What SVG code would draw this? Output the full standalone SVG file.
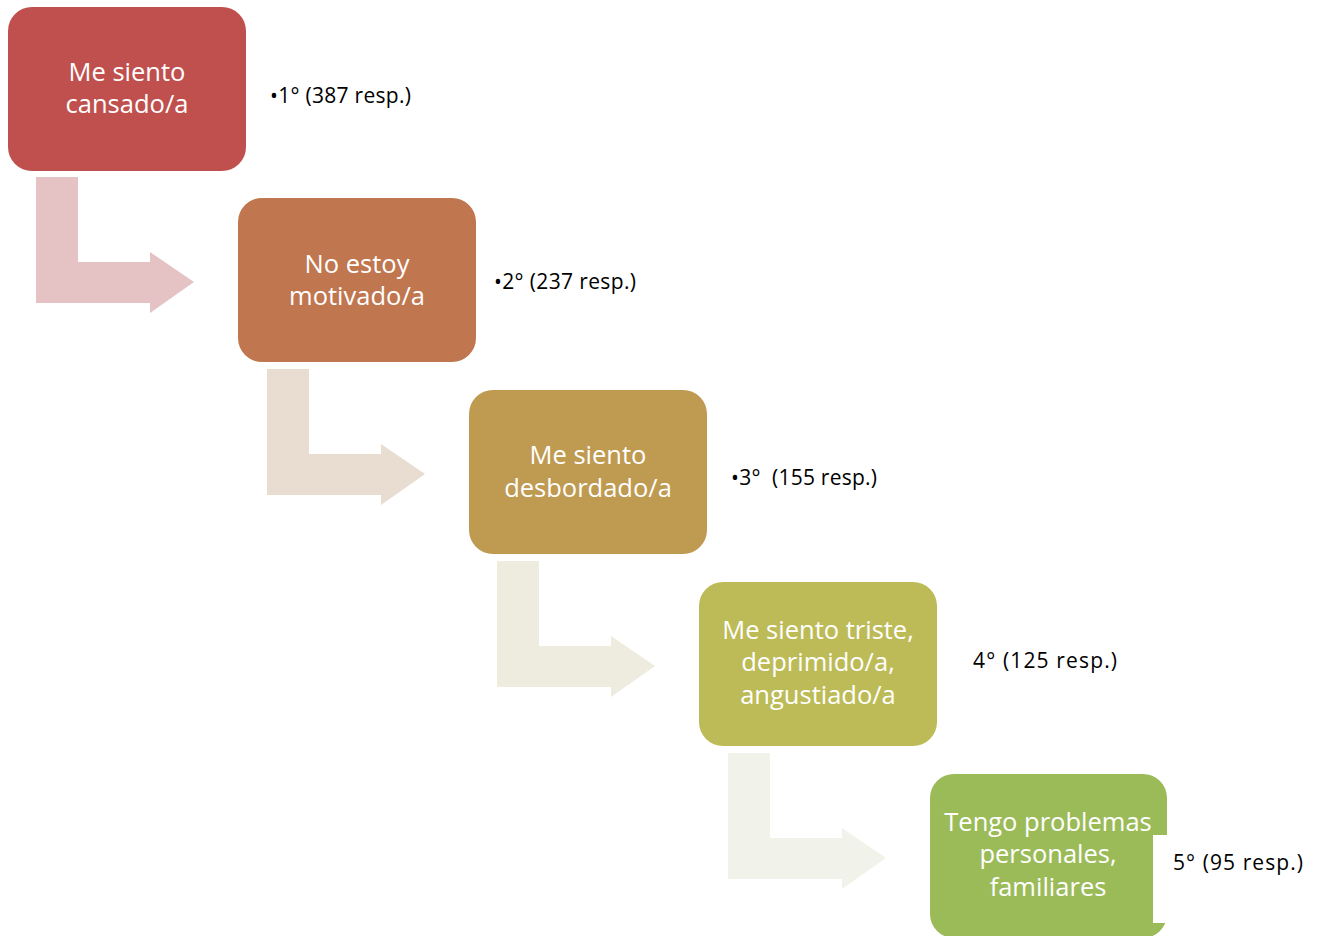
<svg xmlns="http://www.w3.org/2000/svg" width="1324" height="936" viewBox="0 0 1324 936">
<style>
.box text{font-family:"Open Sans","Liberation Sans",sans-serif;font-size:25.5px;fill:#ffffff;text-anchor:middle}
.lbl{font-family:"Open Sans","Liberation Sans",sans-serif;font-size:21px;fill:#000000}
</style>
<defs>
<path id="arr" d="M0 0 H42 V85 H114 V75 L158 105 L114 136 V126 H0 Z"/>
</defs>
<rect width="1324" height="936" fill="#ffffff"/>
<g id="connectors">
<use href="#arr" x="36" y="177" fill="#E5C3C4"/>
<use href="#arr" x="267" y="369" fill="#E9DCD1"/>
<use href="#arr" x="497" y="561" fill="#EEEBDF"/>
<use href="#arr" x="728" y="753" fill="#F1F3EA"/>
</g>
<g id="n1" class="box">
<rect x="8" y="7" width="238" height="164" rx="24" fill="#C0504D"/>
<text x="127" y="81">Me siento</text>
<text x="127" y="113">cansado/a</text>
</g>
<g id="n2" class="box">
<rect x="238" y="198" width="238" height="164" rx="24" fill="#C0764F"/>
<text x="357" y="273">No estoy</text>
<text x="357" y="305">motivado/a</text>
</g>
<g id="n3" class="box">
<rect x="469" y="390" width="238" height="164" rx="24" fill="#BF9A51"/>
<text x="588" y="464">Me siento</text>
<text x="588" y="497">desbordado/a</text>
</g>
<g id="n4" class="box">
<rect x="699" y="582" width="238" height="164" rx="24" fill="#BDBB57"/>
<text x="818" y="639">Me siento triste,</text>
<text x="818" y="671">deprimido/a,</text>
<text x="818" y="704">angustiado/a</text>
</g>
<g id="n5" class="box">
<rect x="930" y="774" width="237" height="164" rx="24" fill="#9BBB59"/>
<text x="1048" y="831">Tengo problemas</text>
<text x="1048" y="863">personales,</text>
<text x="1048" y="896">familiares</text>
</g>
<rect x="1153" y="835" width="167" height="88" fill="#ffffff"/>
<g id="labels">
<text class="lbl" x="270" y="103" textLength="141" lengthAdjust="spacing">•1° (387 resp.)</text>
<text class="lbl" x="494" y="289" textLength="142" lengthAdjust="spacing">•2° (237 resp.)</text>
<text class="lbl" x="731" y="485" textLength="146" lengthAdjust="spacing" xml:space="preserve">•3°  (155 resp.)</text>
<text class="lbl" x="973" y="668" textLength="144" lengthAdjust="spacing">4° (125 resp.)</text>
<text class="lbl" x="1173" y="870" textLength="130" lengthAdjust="spacing">5° (95 resp.)</text>
</g>
</svg>
